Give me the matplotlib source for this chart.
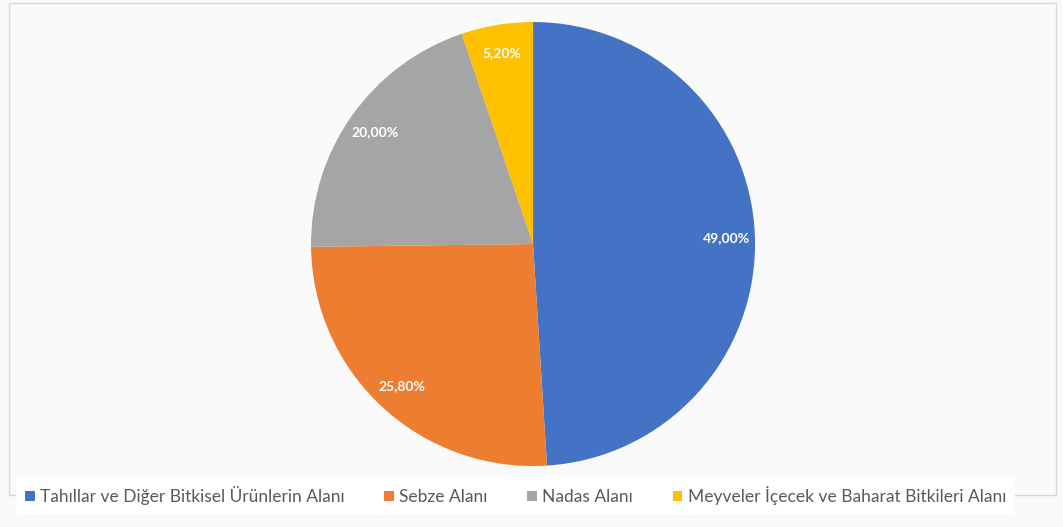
"""Pie chart of land use shares (Office-style colours)."""
import matplotlib.pyplot as plt
from matplotlib.patches import Rectangle

categories = [
    "Tahıllar ve Diğer Bitkisel Ürünlerin Alanı",
    "Sebze Alanı",
    "Nadas Alanı",
    "Meyveler İçecek ve Baharat Bitkileri Alanı",
]
shares = [49.00, 25.80, 20.00, 5.20]
colors = ["#4472C4", "#ED7D31", "#A5A5A5", "#FFC000"]

plt.rcParams["font.family"] = ["Lato", "DejaVu Sans"]

fig = plt.figure(figsize=(10.63, 5.27), dpi=100)
fig.patch.set_facecolor("#fafafa")
fig.patches.append(Rectangle((0.008, 0.06), 0.985, 0.935, transform=fig.transFigure,
                             fill=False, edgecolor="#d9d9d9", linewidth=1.0))

ax = fig.add_axes([0.2926, 0.1157, 0.4177, 0.8425])
wedges, texts, autotexts = ax.pie(
    shares,
    colors=colors,
    startangle=90,
    counterclock=False,
    autopct=lambda p: f"{p:.2f}%".replace(".", ","),
    pctdistance=0.87,
    radius=1.0,
    wedgeprops=dict(linewidth=0),
    textprops=dict(color="white", fontsize=10, fontweight="bold"),
)
ax.set_xlim(-1, 1)
ax.set_ylim(-1, 1)
ax.set_aspect("equal")
ax.axis("off")

leg = fig.legend(
    wedges, categories,
    loc="center", bbox_to_anchor=(0.485, 0.06), ncol=4,
    frameon=True, facecolor="white", edgecolor="none", framealpha=1,
    fontsize=12.5, handlelength=0.55, handleheight=0.55, handletextpad=0.3,
    columnspacing=2.3, borderpad=0.5,
)
for t in leg.get_texts():
    t.set_color("#595959")

fig.savefig("out.png", dpi=100, facecolor=fig.get_facecolor())
